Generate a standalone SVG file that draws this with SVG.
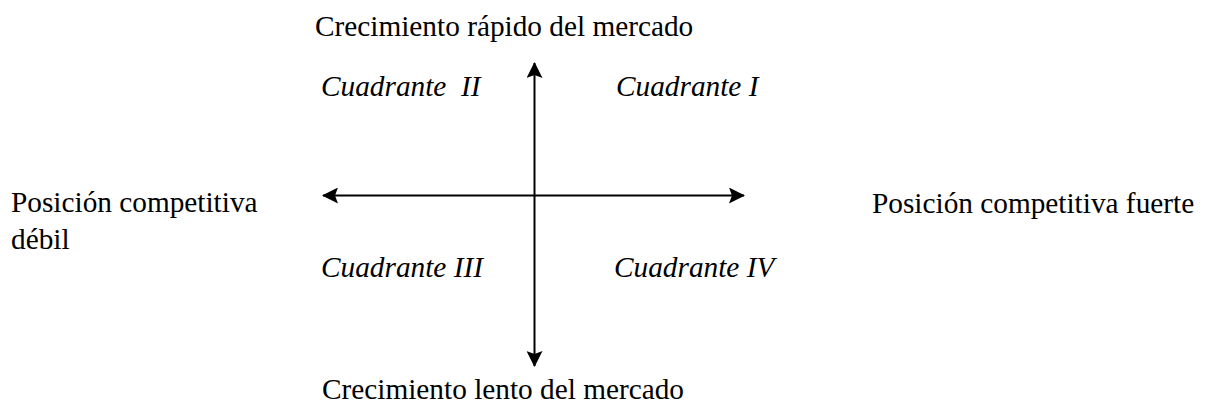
<svg xmlns="http://www.w3.org/2000/svg" width="1210" height="405" viewBox="0 0 1210 405">
<style>
text{font-family:"Liberation Serif","Times New Roman",serif;font-size:29.3px;fill:#000}
.q{font-style:italic}
.ax{stroke:#000;stroke-width:2;fill:none}
</style>
<defs>
<marker id="ah" viewBox="0 0 16 16" refX="15" refY="8" markerWidth="16" markerHeight="16" markerUnits="userSpaceOnUse" orient="auto">
<path d="M0,0 L16,8 L0,16 L3,8 Z" fill="#000"/>
</marker>
</defs>
<rect width="1210" height="405" fill="#fff"/>
<g id="connectors">
<line class="ax" x1="534.5" y1="196" x2="534.5" y2="63" marker-end="url(#ah)"/>
<line class="ax" x1="534.5" y1="196" x2="534.5" y2="366" marker-end="url(#ah)"/>
<line class="ax" x1="534.5" y1="195.5" x2="323" y2="195.5" marker-end="url(#ah)"/>
<line class="ax" x1="534.5" y1="195.5" x2="744" y2="195.5" marker-end="url(#ah)"/>
</g>
<g id="top-label"><text x="315" y="36">Crecimiento rápido del mercado</text></g>
<g id="bottom-label"><text x="322" y="399">Crecimiento lento del mercado</text></g>
<g id="left-label"><text x="11" y="212">Posición competitiva</text><text x="11" y="249">débil</text></g>
<g id="right-label"><text x="872" y="213">Posición competitiva fuerte</text></g>
<g id="q2"><text class="q" x="321" y="96" xml:space="preserve">Cuadrante  II</text></g>
<g id="q1"><text class="q" x="616" y="96">Cuadrante I</text></g>
<g id="q3"><text class="q" x="321" y="277">Cuadrante III</text></g>
<g id="q4"><text class="q" x="614" y="277">Cuadrante IV</text></g>
</svg>
